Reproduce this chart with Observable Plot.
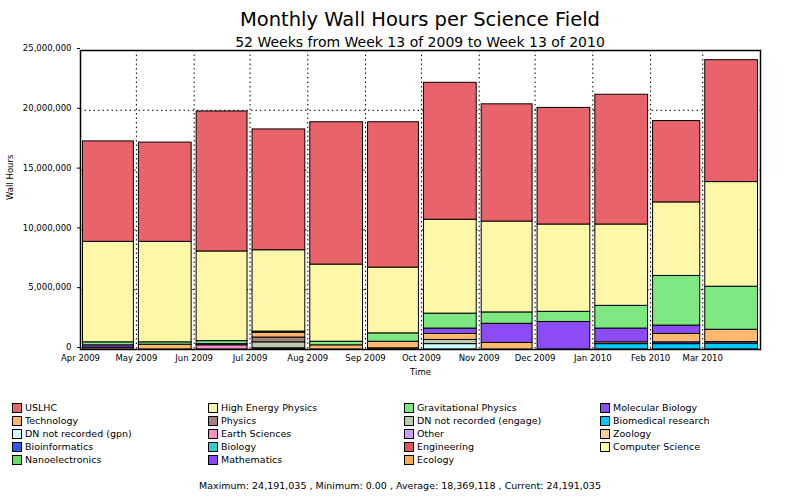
<!DOCTYPE html>
<html><head><meta charset="utf-8">
<script src="https://cdn.jsdelivr.net/npm/d3@7"></script>
<script src="https://cdn.jsdelivr.net/npm/@observablehq/plot@0.6"></script>
<style>
body{margin:0;font-family:"DejaVu Sans",sans-serif;background:#fff}
#wrap{position:relative;width:800px;height:500px}
.t{position:absolute;left:0;width:840px;text-align:center}
#legend{position:absolute;left:12px;top:401px;display:grid;grid-template-columns:196px 196px 196px 196px;font-size:9.5px;row-gap:0px}
#legend div{height:13px;display:flex;align-items:center}
#legend span{display:inline-block;width:8px;height:8px;border:1px solid #000;margin-right:3px}
</style></head><body>
<div id="wrap">
<div id="chart" style="position:absolute;left:0;top:0"></div>
<div class="t" style="top:8px;font-size:19.5px">Monthly Wall Hours per Science Field</div>
<div class="t" style="top:34px;font-size:14px">52 Weeks from Week 13 of 2009 to Week 13 of 2010</div>
<div id="legend"></div>
<div style="position:absolute;top:480px;left:0;width:800px;text-align:center;font-size:9.5px">Maximum: 24,191,035 , Minimum: 0.00 , Average: 18,369,118 , Current: 24,191,035</div>
</div>
<script>
const months = ["2009-04","2009-05","2009-06","2009-07","2009-08","2009-09","2009-10","2009-11","2009-12","2010-01","2010-02","2010-03"]
// stacked bottom to top; values in millions of wall hours
const biomed   = [0,0,0,0,0,0,0,0,0,0.45,0.45,0.5]
const bioinfo  = [0,0,0,0,0,0,0,0,0,0,0.15,0]
const dnGpn    = [0,0,0,0,0,0,0.45,0,0,0,0,0]
const earthSci = [0,0,0.35,0.1,0,0,0,0,0,0,0,0]
const zoology  = [0,0,0,0,0,0.1,0,0,0,0,0,0]
const dnEngage = [0,0,0,0.5,0,0,0.35,0,0,0,0,0]
const physics  = [0,0,0.1,0.4,0,0,0,0,0,0,0,0.12]
const technology = [0.15,0.4,0,0.4,0.35,0.55,0.5,0.55,0,0.15,0.7,1.03]
const molBio   = [0.2,0,0,0,0,0,0.45,1.6,2.3,1.15,0.7,0]
const gravPhys = [0.25,0.2,0.25,0.1,0.3,0.7,1.25,0.95,0.85,1.9,4.15,3.6]
const hep      = [8.4,8.4,7.5,6.8,6.45,5.5,7.85,7.6,7.3,6.8,6.15,8.75]
const uslhc    = [8.4,8.3,11.7,10.1,11.9,12.15,11.45,9.8,9.75,10.85,6.8,10.19]

const series = [
  ["Biomedical research", biomed, "#00c8ff"],
  ["Bioinformatics", bioinfo, "#3355ff"],
  ["DN not recorded (gpn)", dnGpn, "#ccffff"],
  ["Earth Sciences", earthSci, "#ff8ccc"],
  ["Zoology", zoology, "#ffcc99"],
  ["DN not recorded (engage)", dnEngage, "#bbccaa"],
  ["Physics", physics, "#a67f7f"],
  ["Technology", technology, "#ffb86c"],
  ["Molecular Biology", molBio, "#8b4cf6"],
  ["Gravitational Physics", gravPhys, "#7de87f"],
  ["High Energy Physics", hep, "#fff7a8"],
  ["USLHC", uslhc, "#e8636a"]
]
const legendItems = [
  ["USLHC","#e8636a"],["High Energy Physics","#fff7a8"],["Gravitational Physics","#7de87f"],["Molecular Biology","#8b4cf6"],
  ["Technology","#ffb86c"],["Physics","#a67f7f"],["DN not recorded (engage)","#bbccaa"],["Biomedical research","#00c8ff"],
  ["DN not recorded (gpn)","#ccffff"],["Earth Sciences","#ff8ccc"],["Other","#cc99ff"],["Zoology","#ffcc99"],
  ["Bioinformatics","#3355ff"],["Biology","#33cccc"],["Engineering","#e05555"],["Computer Science","#ffffaa"],
  ["Nanoelectronics","#66dd66"],["Mathematics","#8844ff"],["Ecology","#ffaa55"]
]

const data = []
series.forEach(([name, vals]) => vals.forEach((v, i) =>
  data.push({date: new Date(months[i] + "-01T00:00:00Z"), field: name, hours: v * 1e6})))

const ticks = d3.utcMonth.range(new Date("2009-04-01T00:00:00Z"), new Date("2010-04-01T00:00:00Z"))
const chart = Plot.plot({
  width: 800, height: 380,
  marginLeft: 80, marginRight: 40, marginTop: 50, marginBottom: 31,
  style: {fontFamily: "DejaVu Sans, sans-serif", fontSize: "8.5px"},
  x: {type: "utc", domain: [new Date("2009-04-01T00:00:00Z"), new Date("2010-04-01T00:00:00Z")], label: null},
  y: {domain: [0, 25e6], label: null},
  color: {domain: series.map(d => d[0]), range: series.map(d => d[2])},
  marks: [
    Plot.gridX(ticks.concat([new Date("2010-04-01T00:00:00Z")]), {strokeDasharray: "1.5,3", stroke: "#000", strokeOpacity: 1}),
    Plot.gridY(d3.range(5e6, 25e6, 5e6), {strokeDasharray: "1.5,3", stroke: "#000", strokeOpacity: 1}),
    Plot.rectY(data, {x: "date", interval: d3.utcMonth, y: "hours", fill: "field", stroke: "#000", strokeWidth: 1, insetLeft: 2.5, insetRight: 2.5, order: series.map(d => d[0])}),
    Plot.axisX(ticks, {tickFormat: d3.utcFormat("%b %Y"), tickSize: 0, tickPadding: 5}),
    Plot.axisY(d3.range(0, 25e6 + 1, 5e6), {tickFormat: d3.format(","), tickSize: 3, dy: -2}),
    Plot.frame({stroke: "#000", strokeWidth: 1.5}),
    Plot.text(["Time"], {frameAnchor: "bottom", dy: 25}),
    Plot.text(["Wall Hours"], {frameAnchor: "left", dx: -70, rotate: -90})
  ]
})
document.getElementById("chart").append(chart)

const lg = d3.select("#legend")
legendItems.forEach(([n, c]) => {
  const d = lg.append("div")
  d.append("span").style("background", c)
  d.append("text").text(n)
})
</script>
</body></html>
